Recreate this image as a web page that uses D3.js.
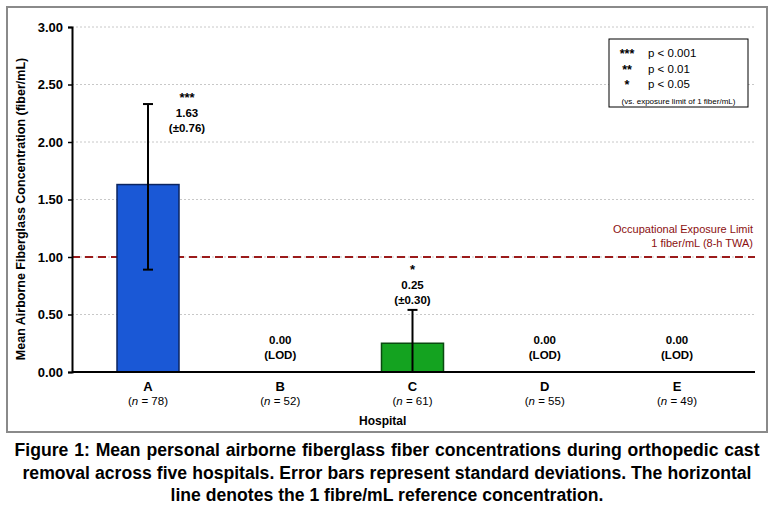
<!DOCTYPE html>
<html><head><meta charset="utf-8">
<script src="https://cdn.jsdelivr.net/npm/d3@7"></script>
<style>
body{margin:0;background:#fff;}
text{font-family:"Liberation Sans",Arial,sans-serif;}
</style></head>
<body>
<svg id="chart" width="774" height="511"></svg>
<script>
// ---- data ----
const hospitals = ["A","B","C","D","E"];
const sampleN = [78, 52, 61, 55, 49];
const means = [1.63, 0.00, 0.25, 0.00, 0.00];
const sdLabels = ["±0.76", "", "±0.30", "", ""];
const errLow = [0.89, 0, 0, 0, 0];     // drawn lower end of error bar
const errHigh = [2.33, 0, 0.54, 0, 0]; // drawn upper end of error bar
const signif = ["***", "", "*", "", ""];
const barColors = ["#1a58d6", null, "#14a320", null, null];
const barStrokes = ["#0b2560", null, "#0a4a10", null, null];
const yTicks = [0, 0.5, 1.0, 1.5, 2.0, 2.5, 3.0];
const oelValue = 1.0;
const legendSymbols = ["***", "**", "*"];
const legendTexts = ["p < 0.001", "p < 0.01", "p < 0.05"];
const captionLines = [
  "Figure 1: Mean personal airborne fiberglass fiber concentrations during orthopedic cast",
  "removal across five hospitals. Error bars represent standard deviations. The horizontal",
  "line denotes the 1 fibre/mL reference concentration."
];

// ---- layout ----
const svg = d3.select("#chart");
const plot = {left:72, right:755, top:27, bottom:372};
const y = d3.scaleLinear().domain([0,3]).range([plot.bottom, plot.top]);
const x = d3.scalePoint().domain(hospitals).range([148, 677]);
const barW = 62;

// frame
svg.append("rect").attr("x",7).attr("y",7).attr("width",760).attr("height",425)
  .attr("fill","none").attr("stroke","#8a8a8a").attr("stroke-width",2);

// gridlines
svg.append("g").selectAll("line").data(yTicks.filter(d=>d>0)).join("line")
  .attr("x1",plot.left).attr("x2",plot.right)
  .attr("y1",d=>y(d)).attr("y2",d=>y(d))
  .attr("stroke","#c8c8c8").attr("stroke-width",1).attr("stroke-dasharray","2,2");

// OEL line
svg.append("line").attr("x1",plot.left).attr("x2",plot.right)
  .attr("y1",y(oelValue)).attr("y2",y(oelValue))
  .attr("stroke","#9b1b1b").attr("stroke-width",2).attr("stroke-dasharray","8,5");
const oel = svg.append("g").attr("fill","#8b1010").style("font-size","11px").attr("text-anchor","end");
oel.append("text").attr("x",753).attr("y",y(oelValue)-24).text("Occupational Exposure Limit");
oel.append("text").attr("x",753).attr("y",y(oelValue)-10).text("1 fiber/mL (8-h TWA)");

// bars
const idx = d3.range(hospitals.length);
svg.append("g").selectAll("rect").data(idx.filter(i=>means[i]>0)).join("rect")
  .attr("x",i=>x(hospitals[i])-barW/2).attr("width",barW)
  .attr("y",i=>y(means[i])).attr("height",i=>y(0)-y(means[i]))
  .attr("fill",i=>barColors[i]).attr("stroke",i=>barStrokes[i]).attr("stroke-width",1.5);

// error bars
const eb = svg.append("g").attr("stroke","#000").attr("stroke-width",2);
idx.filter(i=>errHigh[i]>0).forEach(i=>{
  const cx = x(hospitals[i]);
  eb.append("line").attr("x1",cx).attr("x2",cx).attr("y1",y(errLow[i])).attr("y2",y(errHigh[i]));
  eb.append("line").attr("x1",cx-5).attr("x2",cx+5).attr("y1",y(errHigh[i])).attr("y2",y(errHigh[i]));
  if (errLow[i] > 0)
    eb.append("line").attr("x1",cx-5).attr("x2",cx+5).attr("y1",y(errLow[i])).attr("y2",y(errLow[i]));
});

// y axis
const yAxis = svg.append("g").attr("transform",`translate(${plot.left},0)`)
  .call(d3.axisLeft(y).tickValues(yTicks).tickFormat(d3.format(".2f")).tickSize(4).tickPadding(5));
yAxis.select(".domain").attr("stroke","#000").attr("stroke-width",2);
yAxis.selectAll(".tick line").attr("stroke","#000").attr("stroke-width",1.5);
yAxis.selectAll(".tick text").style("font-size","13px").style("font-weight","bold")
  .attr("fill","#000").style("font-family","'Liberation Sans',Arial,sans-serif");

// x axis
const xAxis = svg.append("g").attr("transform",`translate(0,${plot.bottom})`)
  .call(d3.axisBottom(x).tickSize(0).tickFormat(""));
xAxis.select(".domain").remove();
svg.append("line").attr("x1",plot.left).attr("x2",plot.right).attr("y1",plot.bottom).attr("y2",plot.bottom)
  .attr("stroke","#000").attr("stroke-width",2);
const xl = svg.append("g").attr("text-anchor","middle");
hospitals.forEach((h,i)=>{
  xl.append("text").attr("x",x(h)).attr("y",plot.bottom+19).style("font-size","13px").style("font-weight","bold").text(h);
  const t = xl.append("text").attr("x",x(h)).attr("y",plot.bottom+33).style("font-size","11.5px");
  t.append("tspan").text("(");
  t.append("tspan").style("font-style","italic").text("n");
  t.append("tspan").text(` = ${sampleN[i]})`);
});
svg.append("text").attr("x",359).attr("y",425).style("font-size","12px").style("font-weight","bold").text("Hospital");

// y title
svg.append("text").attr("transform",`translate(25,209) rotate(-90)`).attr("text-anchor","middle")
  .style("font-size","12.5px").style("font-weight","bold")
  .text("Mean Airborne Fiberglass Concentration (fiber/mL)");

// value annotations
const ann = svg.append("g").attr("text-anchor","middle").style("font-size","11.5px").style("font-weight","bold");
idx.forEach(i=>{
  const cx = x(hospitals[i]);
  if (means[i] === 0) {
    ann.append("text").attr("x",cx).attr("y",y(0)-28).text(means[i].toFixed(2));
    ann.append("text").attr("x",cx).attr("y",y(0)-13).text("(LOD)");
  } else {
    const tall = y(errHigh[i]) < 130;
    const ax = tall ? cx + 39 : cx;
    const base = tall ? y(errHigh[i]) - 2 : y(errHigh[i]) - 36;
    ann.append("text").attr("x",ax).attr("y",base).style("font-size","13px").text(signif[i]);
    ann.append("text").attr("x",ax).attr("y",base+15).text(means[i].toFixed(2));
    ann.append("text").attr("x",ax).attr("y",base+30).text(`(${sdLabels[i]})`);
  }
});

// legend
const lg = svg.append("g");
lg.append("rect").attr("x",609).attr("y",39).attr("width",139).attr("height",68)
  .attr("fill","#fff").attr("stroke","#000").attr("stroke-width",1);
legendSymbols.forEach((s,i)=>{
  const yy = 57 + i*15.5;
  lg.append("text").attr("x",627).attr("y",yy+1).attr("text-anchor","middle").style("font-size","12.5px").style("font-weight","bold").text(s);
  lg.append("text").attr("x",648).attr("y",yy).style("font-size","11.5px").text(legendTexts[i]);
});
lg.append("text").attr("x",678.5).attr("y",104).attr("text-anchor","middle").style("font-size","8px")
  .text("(vs. exposure limit of 1 fiber/mL)");

// caption
const capWidths = [745, 729, null];
captionLines.forEach((line,i)=>{
  const t = svg.append("text").attr("x",387).attr("y",456+i*22.5).attr("text-anchor","middle")
    .style("font-size","17.6px").style("font-weight","bold").attr("fill","#000").text(line);
  if (capWidths[i]) {
    const w = t.node().getComputedTextLength();
    const spaces = line.split(" ").length - 1;
    t.style("word-spacing", ((capWidths[i]-w)/spaces) + "px");
  }
});
</script>
</body></html>
